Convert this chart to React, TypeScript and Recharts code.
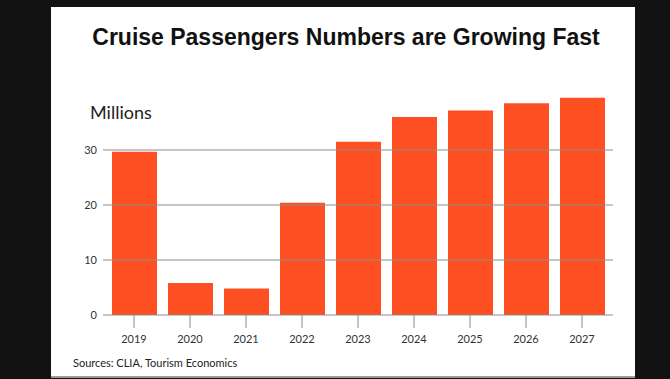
import React from 'react';
import { BarChart, Bar, XAxis, YAxis, ReferenceLine } from 'recharts';

const years = ['2019', '2020', '2021', '2022', '2023', '2024', '2025', '2026', '2027'];
const passengers = [29.7, 5.8, 4.8, 20.4, 31.5, 36.0, 37.2, 38.5, 39.5];
const yTicks = [0, 10, 20, 30];
const gridValues = [10, 20, 30];

const data = years.map((year, i) => ({ year, value: passengers[i] }));

const BAR_COLOR = '#fd4f22';
const GRID_COLOR = '#8c8c8c';
const FONT = 'Lato, "Open Sans", sans-serif';

const App: React.FC = () => {
  return (
    <div style={{ position: 'absolute', left: 0, top: 0, width: 670, height: 379, background: '#121212', overflow: 'hidden' }}>
      <style>{'body{margin:0}'}</style>
      {/* white panel */}
      <div
        style={{
          position: 'absolute',
          left: 51,
          top: 7,
          width: 584,
          height: 369,
          background: '#fff',
          borderBottom: '2px solid #9a9a9a',
        }}
      />
      <div
        style={{
          position: 'absolute',
          left: 51,
          top: 22,
          width: 590,
          textAlign: 'center',
          fontFamily: '"Liberation Sans", Arial, sans-serif',
          fontWeight: 'bold',
          fontSize: 23,
          color: '#111',
          lineHeight: '30px',
        }}
      >
        Cruise Passengers Numbers are Growing Fast
      </div>
      <div
        style={{
          position: 'absolute',
          left: 90,
          top: 100,
          fontFamily: FONT,
          fontSize: 18,
          color: '#222',
          lineHeight: '24px',
        }}
      >
        Millions
      </div>
      <div
        style={{
          position: 'absolute',
          left: 73,
          top: 355,
          fontFamily: FONT,
          fontSize: 11,
          color: '#222',
          lineHeight: '16px',
        }}
      >
        Sources: CLIA, Tourism Economics
      </div>
      <div style={{ position: 'absolute', left: 0, top: 0 }}>
        <BarChart
          width={670}
          height={379}
          data={data}
          margin={{ top: 95, right: 57, left: 73, bottom: 34 }}
          barCategoryGap={0}
        >
          <XAxis
            dataKey="year"
            height={30}
            padding={{ left: 3, right: 3 }}
            stroke={GRID_COLOR}
            tickSize={13}
            tickMargin={7}
            tick={{ fontSize: 11, fill: '#333', fontFamily: FONT }}
          />
          <YAxis
            width={30}
            domain={[0, 40]}
            ticks={yTicks}
            axisLine={false}
            tickLine={false}
            tickSize={0}
            tickMargin={6}
            tick={{ fontSize: 11, fill: '#333', fontFamily: FONT }}
          />
          {gridValues.map((v) => (
            <ReferenceLine key={v} y={v} stroke={GRID_COLOR} strokeWidth={1} />
          ))}
          <Bar dataKey="value" fill={BAR_COLOR} barSize={45} isAnimationActive={false} />
        </BarChart>
      </div>
    </div>
  );
};

export default App;
